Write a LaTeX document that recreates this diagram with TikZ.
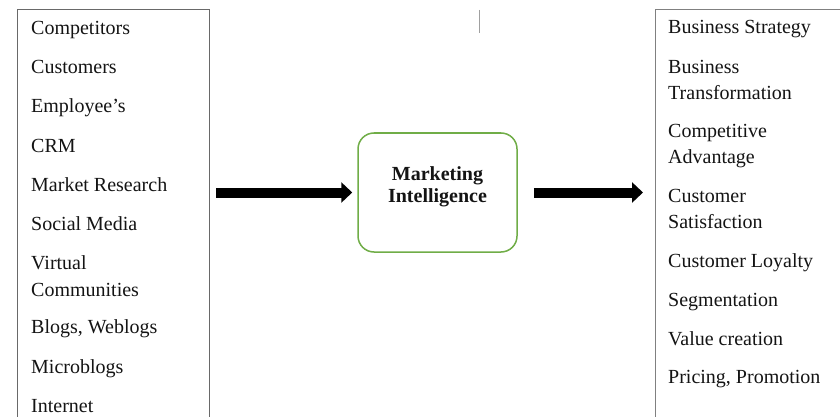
\documentclass[tikz,border=0pt]{standalone}
\usepackage{fontspec}
\setmainfont{Liberation Serif}
\usetikzlibrary{arrows.meta}
\definecolor{boxgray}{RGB}{105,105,105}
\definecolor{boxgrayb}{RGB}{128,128,128}
\definecolor{stray}{RGB}{160,160,160}
\definecolor{migreen}{RGB}{112,173,71}
\definecolor{txt}{RGB}{20,20,20}
\tikzset{
  item/.style={anchor=base west, inner sep=0pt, align=left, text=txt,
    font=\fontsize{20}{27}\selectfont},
  listbox/.style={draw, anchor=north west, inner sep=0pt, line width=1pt},
  mibox/.style={draw=migreen, line width=1.5pt, rounded corners=16pt,
    minimum width=159pt, minimum height=119pt, inner sep=0pt},
  mitext/.style={align=center, inner sep=0pt, text=txt,
    font=\bfseries\fontsize{20}{22}\selectfont},
  bigarrow/.style={line width=10pt, draw=black,
    -{Triangle[length=11pt, width=20pt]}},
}
\begin{document}
\begin{tikzpicture}[x=1pt, y=-1pt]
\useasboundingbox (0,0) rectangle (840,417);
\clip (0,0) rectangle (840,417);
\fill[white] (0,0) rectangle (840,417);

% list boxes
\node[listbox, draw=boxgray, minimum width=192pt, minimum height=440pt] (lbox) at (17,9) {};
\node[listbox, draw=boxgrayb, minimum width=220pt, minimum height=440pt] (rbox) at (655,9) {};

% stray line
\draw[stray, line width=1pt] (479,10) -- (479,33);

% left items
\node[item] (l1) at (31,35) {Competitors};
\node[item] (l2) at (31,74) {Customers};
\node[item] (l3) at (31,113) {Employee’s};
\node[item] (l4) at (31,152) {CRM};
\node[item] (l5) at (31,191) {Market Research};
\node[item] (l6) at (31,230) {Social Media};
\node[item] (l7) at (31,269) {Virtual};
\node[item] (l7b) at (31,296) {Communities};
\node[item] (l8) at (31,333) {Blogs, Weblogs};
\node[item] (l9) at (31,373) {Microblogs};
\node[item] (l10) at (31,412) {Internet};

% right items
\node[item] (r1) at (668,34) {Business Strategy};
\node[item] (r2) at (668,74) {Business};
\node[item] (r2b) at (668,100) {Transformation};
\node[item] (r3) at (668,137) {Competitive};
\node[item] (r3b) at (668,163) {Advantage};
\node[item] (r4) at (668,202) {Customer};
\node[item] (r4b) at (668,228) {Satisfaction};
\node[item] (r5) at (668,267) {Customer Loyalty};
\node[item] (r6) at (668,306) {Segmentation};
\node[item] (r7) at (668,345) {Value creation};
\node[item] (r8) at (668,383) {Pricing, Promotion};

% middle
\node[mibox] (mi) at (437.5,192.5) {};
\node[mitext] (mit) at ([yshift=6pt]mi.center) {Marketing\\Intelligence};

% arrows
\draw[bigarrow] ([xshift=6pt]lbox.east |- mi.west) -- ([xshift=-5pt]mi.west);
\draw[bigarrow] ([xshift=16pt]mi.east) -- ([xshift=-12pt]rbox.west |- mi.east);
\end{tikzpicture}
\end{document}
